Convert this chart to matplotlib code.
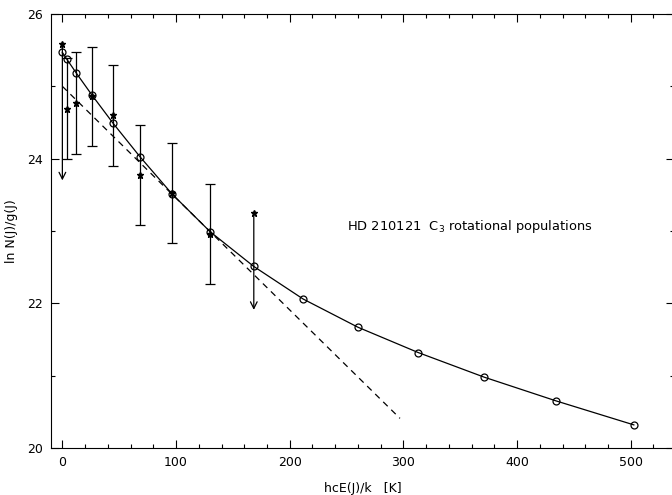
import numpy as np
import matplotlib.pyplot as plt
from matplotlib.ticker import MultipleLocator

# model populations (open circles, joined by solid line)
model_E = [0, 3.7, 12.4, 26, 44.6, 68.1, 96.6, 130, 168.4, 211.8, 260, 313, 371, 434.6, 502.7]
model_lnN = [25.47, 25.38, 25.18, 24.88, 24.49, 24.03, 23.51, 22.99, 22.51,
             22.06, 21.67, 21.32, 20.98, 20.65, 20.32]

# observed values with error bars (stars)
obs_E = [3.7, 12.4, 26, 44.6, 68.1, 96.6, 130]
obs_lnN = [24.69, 24.77, 24.86, 24.60, 23.77, 23.52, 22.96]
obs_err = [0.70, 0.70, 0.68, 0.70, 0.69, 0.69, 0.69]

# upper limits (star with down arrow)
lim_E = [0, 168.4]
lim_top = [25.59, 23.25]
lim_bottom = [23.70, 21.91]

# single-temperature fit (dashed), end points
fit_E = [0, 297]
fit_lnN = [25.0, 20.41]

plt.rcParams['font.family'] = ['DejaVu Sans']
plt.rcParams['font.size'] = 9

fig = plt.figure(figsize=(6.72, 4.95), dpi=100)
ax = fig.add_axes([0.0759, 0.0949, 0.927, 0.8768])

ax.plot(model_E, model_lnN, color='black', lw=0.9, marker='o', ms=5,
        mfc='none', mec='black', mew=0.9)
ax.plot(fit_E, fit_lnN, color='black', lw=0.9, ls=(0, (5, 4)))

ax.errorbar(obs_E, obs_lnN, yerr=obs_err, fmt='*', color='black', ms=5,
            ecolor='black', elinewidth=0.9, capsize=3.4, capthick=0.9)

ax.plot(lim_E, lim_top, '*', color='black', ms=5)
for x, yt, yb in zip(lim_E, lim_top, lim_bottom):
    ax.annotate('', xy=(x, yb), xytext=(x, yt),
                arrowprops=dict(arrowstyle='->', lw=0.9, color='black',
                                shrinkA=0, shrinkB=0, mutation_scale=12))

ax.text(250, 23.06, 'HD 210121  C$_3$ rotational populations', fontsize=9.4,
        va='center', ha='left')

ax.set_xlim(-10, 538)
ax.set_ylim(20, 26)
ax.xaxis.set_major_locator(MultipleLocator(100))
ax.xaxis.set_minor_locator(MultipleLocator(20))
ax.yaxis.set_major_locator(MultipleLocator(2))
ax.yaxis.set_minor_locator(MultipleLocator(1))
ax.tick_params(which='both', direction='in', top=True, right=True, width=0.8)
ax.tick_params(which='major', length=6, pad=6)
ax.tick_params(which='minor', length=3)
for s in ax.spines.values():
    s.set_linewidth(0.8)

ax.set_xlabel('hcE(J)/k   [K]', labelpad=9)
ax.set_ylabel('ln N(J)/g(J)', labelpad=6)

fig.savefig('out.png', dpi=100)
